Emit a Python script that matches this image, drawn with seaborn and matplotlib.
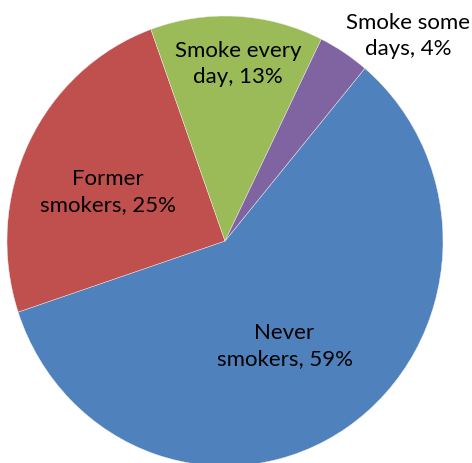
import numpy as np
import matplotlib
matplotlib.use("Agg")
import matplotlib.pyplot as plt
import seaborn as sns

# dados
categorias = ["Never\nsmokers", "Former\nsmokers", "Smoke every\nday", "Smoke some\ndays"]
valores = [58.8, 24.6, 12.8, 3.8]
cores = ["#4F81BD", "#C0504D", "#9BBB59", "#8064A2"]

# posição dos rótulos: distância do centro e desvio do ângulo médio da fatia
dist_rotulo = [0.537, 0.581, 0.793, 1.243]
desvio_ang = [-3.7, 3.25, -1.2, -9.5]

sns.set_style("white")
plt.rcParams["font.family"] = ["Lato", "DejaVu Sans"]

fig = plt.figure(figsize=(4.72, 4.64), dpi=100)
ax = fig.add_axes([7 / 472, -3 / 464, 436 / 472, 450 / 464])

fatias, _ = ax.pie(valores, colors=cores, startangle=50.1, counterclock=False,
                   radius=1, wedgeprops=dict(edgecolor="#f0f0f0", linewidth=0.3))
ax.set_aspect("auto")
ax.set_xlim(-1, 1)
ax.set_ylim(-1, 1)
ax.axis("off")

total = sum(valores)
for fatia, cat, v, d, da in zip(fatias, categorias, valores, dist_rotulo, desvio_ang):
    ang = np.deg2rad((fatia.theta1 + fatia.theta2) / 2 + da)
    texto = f"{cat}, {round(v / total * 100)}%"
    ax.text(d * np.cos(ang), d * np.sin(ang), texto, ha="center", va="center",
            fontsize=16, color="black", linespacing=1.4, clip_on=False)

fig.savefig("out.png", dpi=100)
